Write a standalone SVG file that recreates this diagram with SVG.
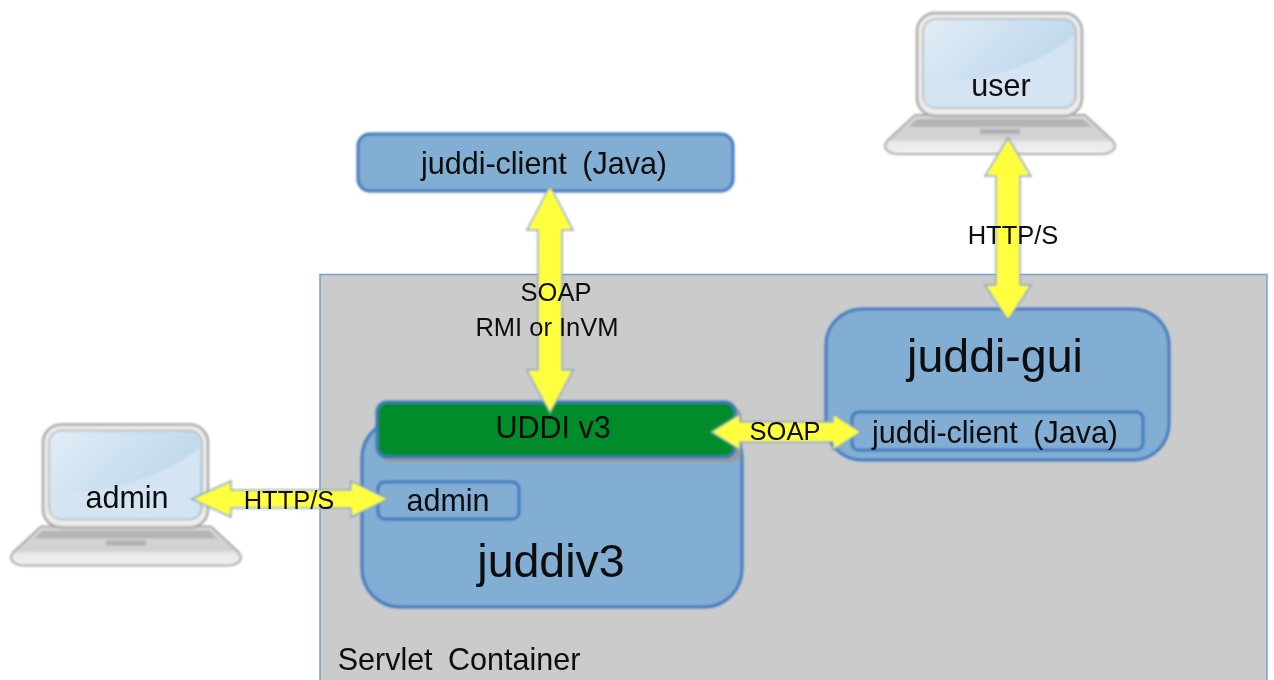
<svg xmlns="http://www.w3.org/2000/svg" width="1274" height="680" viewBox="0 0 1274 680">
<style>
text{font-family:"Liberation Sans",Arial,sans-serif;fill:#0c0c0c;text-anchor:middle;filter:url(#softT)}
.t30{font-size:30.500px}.t25{font-size:25.500px}.big{font-size:46.500px}
.wide{word-spacing:7px}
.blue{fill:#82aed4;stroke:#4079bd;stroke-width:3}
.arrow{fill:#ffff3c;stroke:#86a3bd;stroke-width:1.500;stroke-linejoin:miter}
.blue,.arrow,.s{filter:url(#soft)}
</style>
<defs>
<filter id="soft" filterUnits="userSpaceOnUse" x="0" y="0" width="1274" height="680"><feGaussianBlur stdDeviation="0.800"/></filter>
<filter id="softT" filterUnits="userSpaceOnUse" x="0" y="0" width="1274" height="680"><feGaussianBlur stdDeviation="0.400"/></filter>
<linearGradient id="scr" x1="0" y1="0" x2="1" y2="0.6"><stop offset="0" stop-color="#e2edf7"/><stop offset="1" stop-color="#b9d4ea"/></linearGradient>
<linearGradient id="base" x1="0" y1="0" x2="0" y2="1"><stop offset="0" stop-color="#dadada"/><stop offset="0.6" stop-color="#d0d0d0"/><stop offset="0.7" stop-color="#e8e8e8"/><stop offset="1" stop-color="#f2f2f2"/></linearGradient>
<g id="laptop">
<path d="M915 115H1085L1112 140Q1118 147 1112 151Q1108 154 1100 154H900Q892 154 888 151Q882 147 888 140Z" fill="url(#base)" stroke="#a8a8a8" stroke-width="2"/>
<path d="M917 119H1083L1092 127H908Z" fill="#b4b4b4"/>
<rect x="980" y="129" width="40" height="5" fill="#b0b0b0"/>
<rect x="917" y="13" width="165" height="103" rx="18" fill="#ececec" stroke="#a8a8a8" stroke-width="2.500"/>
<rect x="923" y="19" width="153" height="89" rx="13" fill="url(#scr)" stroke="#b4b4b4" stroke-width="1.500"/>
<path d="M924 84Q1020 80 1074 36V96Q1074 107 1062 107H936Q924 107 924 96Z" fill="#d4e4f3"/>
</g>
</defs>
<g id="servlet-container">
<rect x="320" y="274.500" width="947" height="420" fill="#cbcbcb" stroke="#7b9fcb" stroke-width="1.500"/>
<text x="459" y="670" class="t30 wide">Servlet Container</text>
</g>
<g id="user"><g class="s"><use href="#laptop"/></g><text x="1001" y="96" class="t30">user</text></g>
<g id="admin-laptop"><g class="s"><use href="#laptop" transform="translate(-874 411.500)"/></g><text x="127" y="508" class="t30">admin</text></g>
<g id="juddi-client">
<rect x="358" y="134" width="375" height="57" rx="12" class="blue"/>
<text x="544" y="174" class="t30 wide">juddi-client (Java)</text>
</g>
<g id="juddiv3">
<rect x="362" y="420" width="380" height="187" rx="38" class="blue"/>
<text x="551" y="577" class="big">juddiv3</text>
</g>
<g id="admin-box">
<rect x="378" y="482" width="141" height="37" rx="7" class="blue"/>
<text x="448" y="511" class="t30">admin</text>
</g>
<g id="uddi">
<rect x="381" y="406" width="360" height="56" rx="10" fill="#9a9a9a" class="s"/>
<rect x="377" y="402" width="358" height="55" rx="10" fill="#008c2a" stroke="#4079bd" stroke-width="3" class="s"/>
<text x="553" y="438" class="t30">UDDI v3</text>
</g>
<g id="juddi-gui">
<rect x="826" y="309" width="343" height="151" rx="36" class="blue"/>
<text x="995" y="372" class="big">juddi-gui</text>
</g>
<g id="juddi-client-inner">
<rect x="852" y="412" width="291" height="38" rx="7" class="blue"/>
<text x="995" y="443" class="t30 wide">juddi-client (Java)</text>
</g>
<g id="connectors">
<path class="arrow" d="M550 186L573 230H562V370H573L550 413L527 370H538V230H527Z"/>
<path class="arrow" d="M1008 138L1031 176H1020V285H1031L1008 320L985 285H996V176H985Z"/>
<path class="arrow" d="M192 499L231 481V490H351V481L388 499L351 517V508H231V517Z"/>
<path class="arrow" d="M711 432L740 414V422H833V414L861 432L833 450V442H740V450Z"/>
<text x="556" y="301" class="t25">SOAP</text>
<text x="547" y="336" class="t25">RMI or InVM</text>
<text x="1013" y="244" class="t25">HTTP/S</text>
<text x="289" y="509" class="t25">HTTP/S</text>
<text x="785" y="440" class="t25">SOAP</text>
</g>
</svg>
